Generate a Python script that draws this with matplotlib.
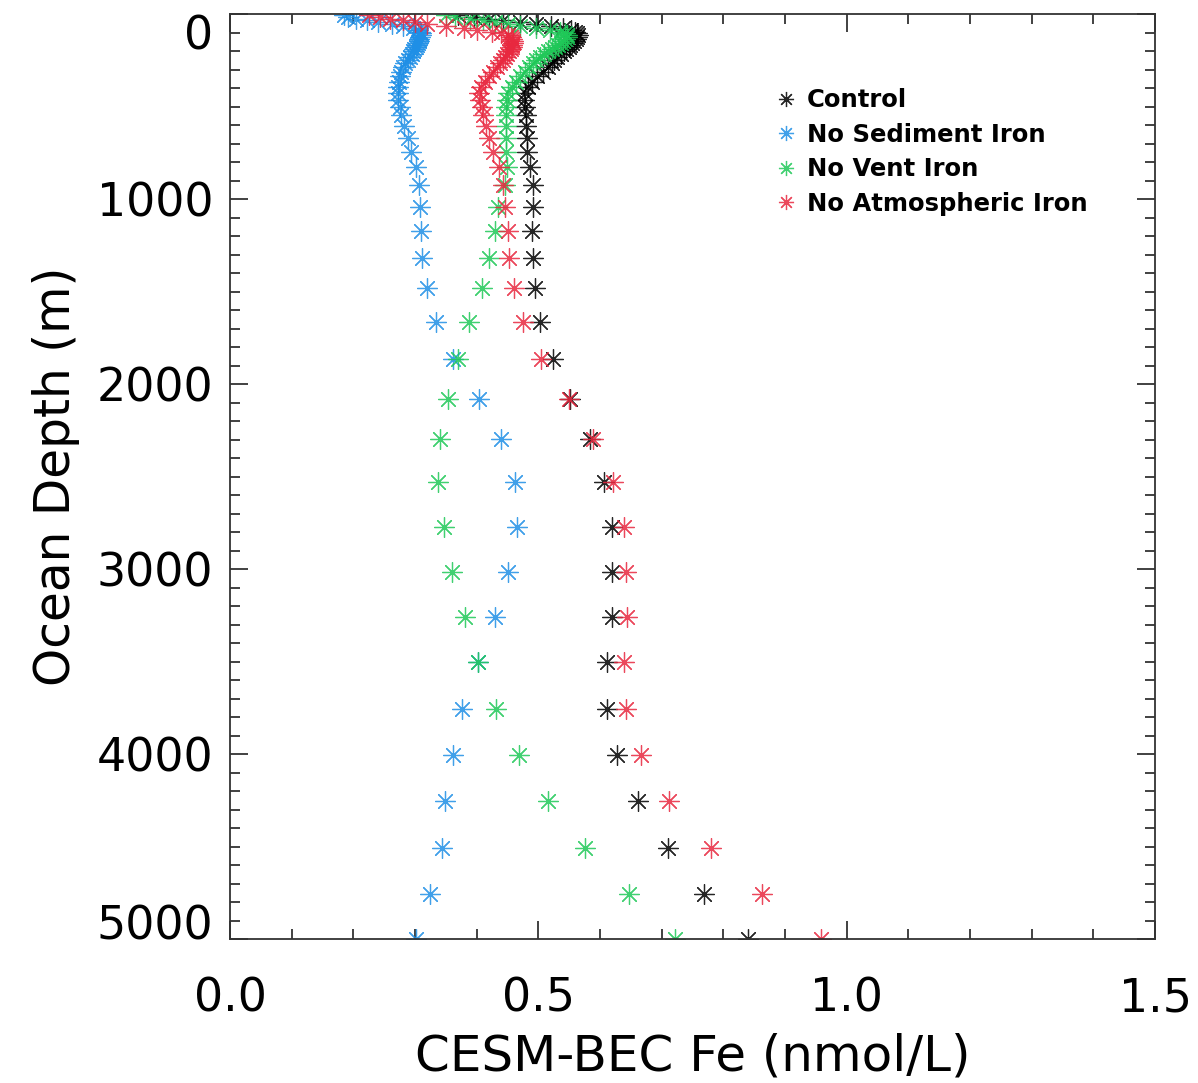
import matplotlib
matplotlib.use("Agg")
import matplotlib.pyplot as plt
from matplotlib.ticker import MultipleLocator

# ---------------- data ----------------
depth = [5, 15, 25, 35, 45, 55, 65, 75, 85, 95, 105, 115, 125, 135, 145,
         155, 166, 177, 189, 202, 216, 231, 248, 267, 288, 311, 336, 365, 396, 429,
         465, 501, 546, 605, 672, 744, 829, 924,
         1041, 1171, 1319, 1483, 1667, 1865, 2078, 2299, 2531, 2771, 3014, 3257,
         3504, 3757, 4005, 4254, 4504, 4753, 5000]

fe_control = [0.370, 0.395, 0.420, 0.443, 0.470, 0.497, 0.520, 0.540, 0.553, 0.560, 0.563, 0.564, 0.563, 0.561, 0.558,
              0.555, 0.552, 0.549, 0.545, 0.541, 0.536, 0.531, 0.526, 0.522, 0.515, 0.507, 0.498, 0.490, 0.484, 0.479,
              0.476, 0.478, 0.480, 0.480, 0.481, 0.482, 0.486, 0.491,
              0.491, 0.490, 0.491, 0.495, 0.502, 0.523, 0.552, 0.584, 0.606, 0.619, 0.619, 0.619,
              0.611, 0.612, 0.628, 0.661, 0.710, 0.769, 0.840]

fe_no_sediment = [0.185, 0.192, 0.205, 0.222, 0.240, 0.262, 0.281, 0.297, 0.305, 0.308, 0.309, 0.309, 0.308, 0.307, 0.306,
                  0.305, 0.303, 0.301, 0.299, 0.297, 0.295, 0.292, 0.288, 0.284, 0.281, 0.278, 0.276, 0.274, 0.272, 0.272,
                  0.273, 0.276, 0.278, 0.282, 0.288, 0.293, 0.301, 0.306,
                  0.308, 0.310, 0.312, 0.320, 0.334, 0.362, 0.403, 0.439, 0.462, 0.466, 0.450, 0.429,
                  0.402, 0.377, 0.361, 0.349, 0.343, 0.324, 0.302]

fe_no_vent = [0.350, 0.365, 0.389, 0.410, 0.430, 0.450, 0.470, 0.497, 0.519, 0.535, 0.543, 0.546, 0.546, 0.544, 0.540,
              0.536, 0.532, 0.527, 0.522, 0.516, 0.509, 0.502, 0.497, 0.492, 0.485, 0.478, 0.471, 0.464, 0.457, 0.451,
              0.449, 0.448, 0.448, 0.448, 0.447, 0.448, 0.449, 0.446,
              0.435, 0.430, 0.420, 0.408, 0.388, 0.370, 0.353, 0.341, 0.338, 0.347, 0.360, 0.381,
              0.402, 0.432, 0.469, 0.516, 0.576, 0.647, 0.722]

fe_no_atmos = [0.225, 0.243, 0.260, 0.280, 0.300, 0.320, 0.350, 0.380, 0.400, 0.425, 0.440, 0.450, 0.455, 0.458, 0.459,
               0.459, 0.458, 0.457, 0.455, 0.452, 0.449, 0.446, 0.443, 0.438, 0.433, 0.427, 0.420, 0.413, 0.407, 0.403,
               0.405, 0.408, 0.410, 0.415, 0.420, 0.427, 0.437, 0.443,
               0.446, 0.450, 0.453, 0.461, 0.475, 0.504, 0.549, 0.589, 0.621, 0.639, 0.642, 0.643,
               0.639, 0.642, 0.666, 0.712, 0.780, 0.862, 0.958]

series_names = ["Control", "No Sediment Iron", "No Vent Iron", "No Atmospheric Iron"]
series_values = [fe_control, fe_no_sediment, fe_no_vent, fe_no_atmos]
series_colors = ["#000000", "#1f8fe6", "#1fc858", "#e8283f"]

x_ticks = [0.0, 0.5, 1.0, 1.5]
x_ticklabels = ["0.0", "0.5", "1.0", "1.5"]
y_ticks = [0, 1000, 2000, 3000, 4000, 5000]
y_ticklabels = ["0", "1000", "2000", "3000", "4000", "5000"]

# ---------------- figure ----------------
fig = plt.figure(figsize=(11.98, 10.83), dpi=100)
ax = fig.add_axes([230 / 1198, (1083 - 939.3) / 1083, (1155 - 230) / 1198, (939.3 - 14) / 1083])

for name, vals, col in zip(series_names, series_values, series_colors):
    ax.plot(vals, depth, linestyle="none", marker=(8, 2, 0), markersize=14.5,
            markeredgewidth=0.9, color=col, label=name, alpha=0.85)

ax.set_xlim(0.0, 1.5)
ax.set_ylim(5000, 0)

ax.set_xticks(x_ticks)
ax.set_xticklabels(x_ticklabels)
ax.set_yticks(y_ticks)
ax.set_yticklabels(y_ticklabels)
ax.xaxis.set_minor_locator(MultipleLocator(0.1))
ax.yaxis.set_minor_locator(MultipleLocator(100))

ax.tick_params(which="both", direction="in", top=True, right=True, color="#333333", width=1.3)
ax.tick_params(which="major", length=13)
ax.tick_params(which="minor", length=7.2)
ax.tick_params(axis="x", which="major", labelsize=33, pad=27)
ax.tick_params(axis="y", which="major", labelsize=33, pad=12)
for sp in ax.spines.values():
    sp.set_color("#333333")
    sp.set_linewidth(1.3)

ax.set_xlabel("CESM-BEC Fe (nmol/L)", fontsize=36, labelpad=8)
ax.set_ylabel("Ocean Depth (m)", fontsize=35, labelpad=12)

ylabels = ax.get_yticklabels()
ylabels[0].set_va("top")
ylabels[-1].set_va("baseline")

leg = ax.legend(loc="upper left", bbox_to_anchor=(0.58, 0.930), frameon=False,
                prop={"weight": "bold", "size": 17.5}, handlelength=0.8, handletextpad=0.45,
                labelspacing=0.43, markerscale=0.75, borderaxespad=0)

fig.savefig("out.png", dpi=100)
